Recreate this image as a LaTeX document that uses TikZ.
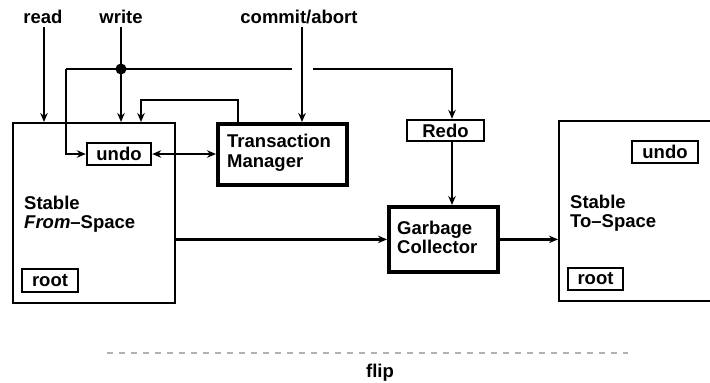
\documentclass[tikz,border=0pt]{standalone}
\usepackage{fontspec}
\setmainfont{Liberation Sans}
\usetikzlibrary{arrows.meta}
\tikzset{
  lbl/.style={font=\fontsize{18.5}{19.5}\selectfont\bfseries, inner sep=0pt},
  thinbox/.style={draw, line width=2.4pt, inner sep=0pt},
  thickbox/.style={draw, line width=3.8pt, inner sep=0pt},
  smallbox/.style={draw, line width=2.4pt, inner sep=0pt, font=\fontsize{18.5}{19.5}\selectfont\bfseries},
  conn/.style={line width=2.4pt},
  arr/.style={conn, -{Stealth[length=9pt,width=7.5pt]}},
  darr/.style={conn, {Stealth[length=9pt,width=7.5pt]}-{Stealth[length=9pt,width=7.5pt]}},
}
\begin{document}
\begin{tikzpicture}[x=1pt,y=-1pt]
\useasboundingbox (0,0) rectangle (710,383);
% big boxes
\node[thinbox, minimum width=162pt, minimum height=180pt, anchor=north west] (from) at (12,122) {};
\node[thinbox, minimum width=170pt, minimum height=180pt, anchor=north west] (to) at (558,120) {};
\node[thickbox, minimum width=129pt, minimum height=61pt, anchor=north west] (tm) at (216,122) {};
\node[thickbox, minimum width=109pt, minimum height=65pt, anchor=north west] (gc) at (387,205) {};
% small boxes
\node[smallbox, minimum width=64pt, minimum height=22pt] (undoL) at (119,154) {undo};
\node[smallbox, minimum width=66pt, minimum height=22pt] (undoR) at (665,152) {undo};
\node[smallbox, minimum width=56pt, minimum height=23pt] (rootL) at (50,280.5) {root};
\node[smallbox, minimum width=55pt, minimum height=22pt] (rootR) at (595.5,279) {root};
\node[smallbox, minimum width=77pt, minimum height=21pt] (redo) at (445.5,130.5) {Redo};
% texts
\node[lbl, align=left, anchor=west] (tmt) at (227,153) {Transaction\\Manager};
\node[lbl, align=left, anchor=west] (gct) at (397,237.5) {Garbage\\Collector};
\node[lbl, align=left, anchor=west] (fromt) at (24,214) {Stable\\\textit{From}–Space};
\node[lbl, align=left, anchor=west] (tot) at (570,213) {Stable\\To–Space};
\node[lbl] (read) at (43,17) {read};
\node[lbl] (write) at (121,17) {write};
\node[lbl] (commit) at (299,17) {commit/abort};
\node[lbl] (flip) at (380,373) {flip};
% coordinates
\coordinate (dot) at (121,69);
\coordinate (lc) at (66,69);
\coordinate (g1) at (292,69);
\coordinate (g2) at (313,69);
\coordinate (rc) at (452,69);
\coordinate (tmup) at (238,100);
\coordinate (lup) at (141,100);
\coordinate (fl1) at (107,353);
\coordinate (fl2) at (628,353);
% connectors
\draw[arr] (44,27) -- (44,122);
\draw[arr] (121,27) -- (121,122);
\draw[arr] (302,27) -- (302,122);
\draw[conn] (dot) -- (lc);
\draw[arr] (lc) |- (undoL.west);
\draw[conn] (dot) -- (g1);
\draw[arr] (g2) -| (rc |- redo.north);
\draw[darr] (undoL.east) -- (tm.west |- undoL.east);
\draw[arr] (tm.north -| tmup) -- (tmup) -| (lup |- from.north);
\draw[arr] (rc |- redo.south) -- (rc |- gc.north);
\draw[arr] (from.east |- gc.west) -- (gc.west);
\draw[arr] (gc.east) -- (to.west |- gc.east);
\fill (dot) circle (5.5pt);
\draw[gray!60, line width=1.3pt, dash pattern=on 6pt off 6pt] (fl1) -- (fl2);
\end{tikzpicture}
\end{document}
